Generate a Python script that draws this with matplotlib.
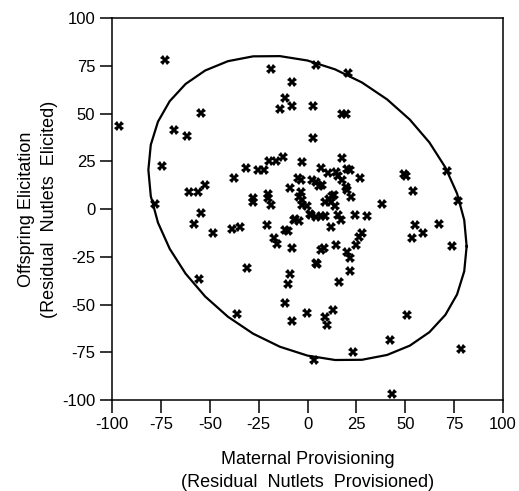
import numpy as np
import matplotlib
matplotlib.use('Agg')
import matplotlib.pyplot as plt

# Residual values
maternal = [-73, -96.5, -54.5, -68.5, -61.5, -18.5, -8, -11.5, -14, -8,
            3, 3, 4.5, 20.5, 17.5, 19.5, -74.5, -78, -60.5, -56,
            -52.5, -54.5, -58, -48.5, -38.5, -34.5, -37.5, -31.5, -25.5, -22.5,
            -19.5, -16, -12.5, -3, -28, -28, -20, -20, -18.5, -20.5,
            -17, -15.5, -11.5, -10, -8, -6.5, -4.5, -7, -5, -3.5,
            -9, -3.5, -4.5, -2.7, -2.6, 1.5, -31, -9, 17.5, 6.7,
            10.6, 14.7, 15.5, 20.3, 21.5, 27, 17.5, 19.5, 22.5, 20.3,
            2.4, 4.1, 5.8, 7.5, 12.6, 13.4, 9.2, 11.8, 14.3, 10.9,
            -0.5, 2, 4.1, 6.7, 9.2, 15.5, 17, 11.8, 24.2, 30.2,
            38.2, 49.5, 50.5, 54, 71.5, 76.8, 55, 53.3, 59, 67.2,
            74, 28, 26.3, 25, 14.7, 6.7, 8.4, 20.3, 21.5, 4.1,
            5, 21.7, 16, -0.5, 9.2, 13, 10.2, 50.7, 42, 23.4,
            3.2, 78.3, 43.4, -55.5, -36.2, -10.2, -11.6, -8]
elicitation = [78, 43.5, 50.5, 41.5, 38, 73.5, 66.5, 58, 52.5, 54,
               54, 37, 75.5, 71, 49.5, 49.5, 22.5, 2.5, 9, 9,
               12.5, -2, -8, -12.5, -10.5, -9.5, 16.5, 21.5, 20.5, 20.5,
               25, 25, 27, 24.5, 6, 3.5, 8, 6, 2, -8.5,
               -15, -18.5, -11, -11.5, -20.5, -5, -6.5, -6, 16.5, 15,
               11, 9, 6.2, 4.5, 2, -2.5, -31, -34, 26.5, 21.7,
               19, 19.3, 17.2, 21, 20.2, 16.3, 15, 11.4, 6.2, 9.7,
               15, 14, 12.3, 12.6, 6.7, 7.5, 3.6, 3.6, 1.7, 5,
               1.8, -3, -4.3, -3.9, -3.4, -3, -6, -9.5, -3, -3.4,
               2.7, 18.5, 17.5, 9.2, 19.8, 4, -8.6, -15, -12.5, -8,
               -19.2, -12.5, -14.8, -19, -18.6, -21.2, -20.5, -22.6, -25.8, -28.2,
               -28.7, -32.2, -38.3, -54.3, -56.3, -52.8, -60.6, -55.4, -68.8, -75,
               -78.8, -73.2, -96.8, -36.5, -55.2, -39.2, -49.1, -58.7]

# confidence ellipse: centre and covariance-like shape
ell_center = [0.0, 0.5]
ell_cov = [[6626.0, -1628.0], [-1628.0, 6368.0]]
n_seg = 36

ticks = [-100, -75, -50, -25, 0, 25, 50, 75, 100]

plt.rcParams['font.family'] = ['Liberation Sans', 'DejaVu Sans']
plt.rcParams['axes.unicode_minus'] = False

fig = plt.figure(figsize=(5.19, 4.91), dpi=100)
ax = fig.add_axes([0.2158, 0.1853, 0.9692 - 0.2158, 0.9633 - 0.1853])

# ellipse outline from the shape matrix
L = np.linalg.cholesky(np.array(ell_cov))
t = np.linspace(0, 2 * np.pi, n_seg + 1)
circ = np.vstack([np.cos(t), np.sin(t)])
pts = L @ circ
ax.plot(pts[0] + ell_center[0], pts[1] + ell_center[1], color='black', lw=1.6)

ax.plot(maternal, elicitation, linestyle='none', marker='X', markersize=7,
        color='black', markeredgewidth=0)

ax.set_xlim(-100, 100)
ax.set_ylim(-100, 100)
ax.set_xticks(ticks)
ax.set_yticks(ticks)
ax.tick_params(direction='out', length=9, width=1.1, labelsize=12, pad=3)
for s in ax.spines.values():
    s.set_linewidth(1.1)

ax.set_xlabel('Maternal Provisioning\n(Residual  Nutlets  Provisioned)', fontsize=13, labelpad=14, linespacing=1.45)
ax.set_ylabel('Offspring Elicitation\n(Residual  Nutlets  Elicited)', fontsize=13, labelpad=3, linespacing=1.45)

fig.savefig('out.png', dpi=100)
